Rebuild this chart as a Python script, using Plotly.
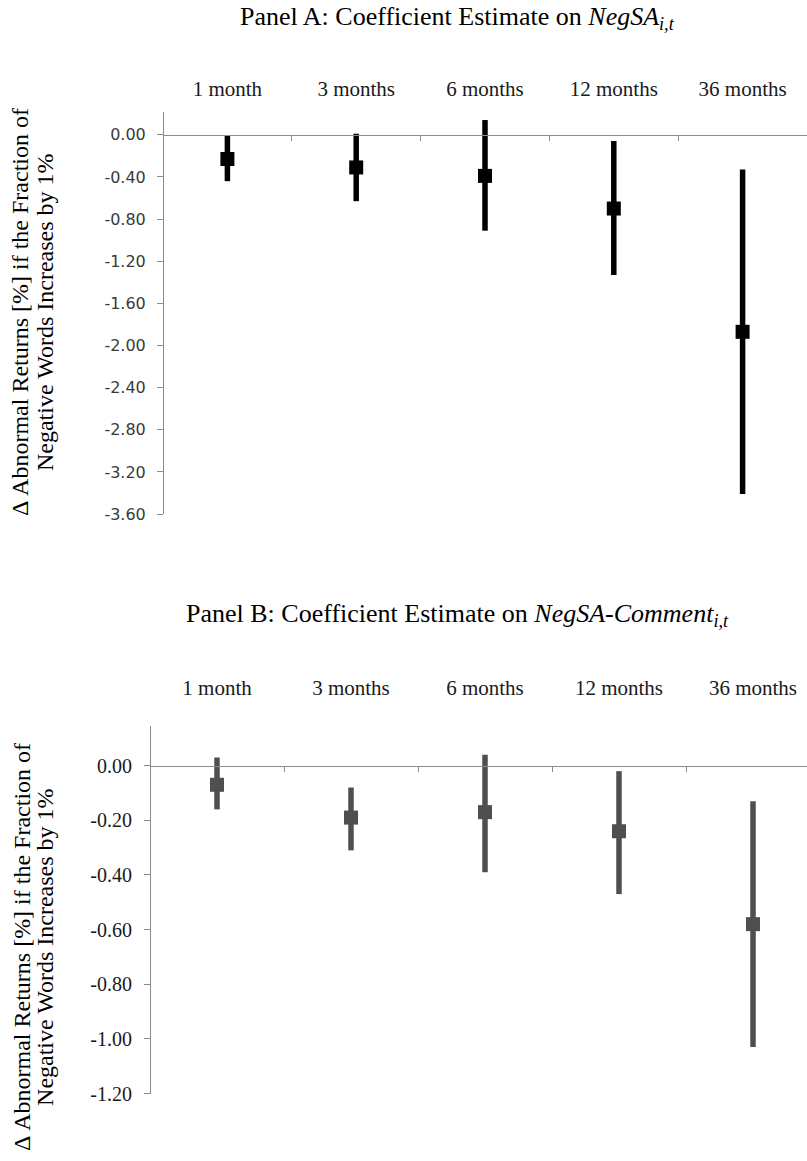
import plotly.graph_objects as go

# ---------------- data ----------------
categories = ["1 month", "3 months", "6 months", "12 months", "36 months"]

panel_a_est = [-0.23, -0.31, -0.39, -0.70, -1.87]
panel_a_upper = [-0.01, 0.01, 0.14, -0.06, -0.33]
panel_a_lower = [-0.44, -0.63, -0.91, -1.33, -3.41]

panel_b_est = [-0.07, -0.19, -0.17, -0.24, -0.58]
panel_b_upper = [0.03, -0.08, 0.04, -0.02, -0.13]
panel_b_lower = [-0.16, -0.31, -0.39, -0.47, -1.03]

panel_a_ticks = [0.0, -0.4, -0.8, -1.2, -1.6, -2.0, -2.4, -2.8, -3.2, -3.6]
panel_a_ticktext = ["0.00", "-0.40", "-0.80", "-1.20", "-1.60", "-2.00", "-2.40", "-2.80", "-3.20", "-3.60"]
panel_b_ticks = [0.0, -0.2, -0.4, -0.6, -0.8, -1.0, -1.2]
panel_b_ticktext = ["0.00", "-0.20", "-0.40", "-0.60", "-0.80", "-1.00", "-1.20"]

title_a = "Panel A: Coefficient Estimate on <i>NegSA</i><sub><i>i,t</i></sub>"
title_b = "Panel B: Coefficient Estimate on <i>NegSA-Comment</i><sub><i>i,t</i></sub>"
ytitle_line1 = "\u0394 Abnormal Returns [%] if the Fraction of"
ytitle_line2 = "Negative Words Increases by 1%"

# ---------------- layout geometry (pixels) ----------------
W, H = 807, 1161
SERIF = "Liberation Serif, Times New Roman, serif"
AXIS_GRAY = "#8c8c8c"


def py(pix):
    return 1 - pix / H


def px(pix):
    return pix / W


fig = go.Figure()


def add_panel(idx, est, upper, lower, color, x0_pix, cat_w, ytop_pix, ybot_pix,
              yrange, tickvals, ticktext, tickfont, label_standoff):
    xname = "x" if idx == 1 else f"x{idx}"
    yname = "y" if idx == 1 else f"y{idx}"
    xkey = "xaxis" if idx == 1 else f"xaxis{idx}"
    ykey = "yaxis" if idx == 1 else f"yaxis{idx}"

    err_plus = [u - e for u, e in zip(upper, est)]
    err_minus = [e - l for e, l in zip(est, lower)]
    fig.add_trace(go.Scatter(
        x=categories, y=est, xaxis=xname, yaxis=yname, mode="markers",
        marker=dict(symbol="square", size=14, color=color),
        error_y=dict(type="data", symmetric=False, array=err_plus,
                     arrayminus=err_minus, thickness=5.5, width=0, color=color),
        showlegend=False, hoverinfo="skip",
    ))

    ydom = [py(ybot_pix), py(ytop_pix)]
    zero_pos = ydom[0] + (0 - yrange[0]) / (yrange[1] - yrange[0]) * (ydom[1] - ydom[0])
    xrange_ = [-0.5, -0.5 + (W - x0_pix) / cat_w]

    fig.layout[xkey] = dict(
        type="category", domain=[px(x0_pix), 1], range=xrange_,
        anchor="free", position=zero_pos, side="top",
        showline=True, linecolor=AXIS_GRAY, linewidth=1,
        ticks="inside", tickson="boundaries", ticklen=5, tickcolor=AXIS_GRAY,
        showgrid=False, zeroline=False,
        tickfont=dict(family=SERIF, size=21, color="#1a1a1a"),
        ticklabelstandoff=label_standoff, fixedrange=True,
    )
    fig.layout[ykey] = dict(
        domain=ydom, range=yrange, anchor="free", position=px(x0_pix),
        showline=True, linecolor=AXIS_GRAY, linewidth=1,
        ticks="outside", ticklen=6, tickcolor=AXIS_GRAY,
        tickmode="array", tickvals=tickvals, ticktext=ticktext,
        tickfont=tickfont, showgrid=False, zeroline=False,
        ticklabelstandoff=8, fixedrange=True,
    )


add_panel(1, panel_a_est, panel_a_upper, panel_a_lower, "#000000",
          163, 128.8, 113, 519, [-3.6, 0.217], panel_a_ticks, panel_a_ticktext,
          dict(family="DejaVu Sans, Verdana, sans-serif", size=16, color="#3a3a3a"), 30)
add_panel(2, panel_b_est, panel_b_upper, panel_b_lower, "#4f4f4f",
          150, 134, 733, 1104, [-1.2, 0.145], panel_b_ticks, panel_b_ticktext,
          dict(family=SERIF, size=20, color="#1a1a1a"), 62)

annotations = []
for text, cy in [(title_a, 18), (title_b, 621)]:
    annotations.append(dict(
        text=text, x=px(457), y=py(cy), xref="paper", yref="paper",
        xanchor="center", yanchor="middle", showarrow=False,
        font=dict(family=SERIF, size=26, color="#000000"),
    ))
for cy, x1, x2 in [(315, 20, 45), (956, 22, 45)]:
    annotations.append(dict(
        text=ytitle_line1, x=px(x1), y=py(cy), xref="paper", yref="paper",
        xanchor="center", yanchor="middle", textangle=-90, showarrow=False,
        font=dict(family=SERIF, size=24, color="#000000"),
    ))
    annotations.append(dict(
        text=ytitle_line2, x=px(x2), y=py(cy), xref="paper", yref="paper",
        xanchor="center", yanchor="middle", textangle=-90, showarrow=False,
        font=dict(family=SERIF, size=24, color="#000000"),
    ))

fig.update_layout(
    width=W, height=H, margin=dict(l=0, r=0, t=0, b=0),
    paper_bgcolor="white", plot_bgcolor="white",
    annotations=annotations,
)

fig.write_html(
    "out.html",
    config={"displayModeBar": False},
    post_script="document.body.style.margin='0';document.body.style.overflow='hidden';",
)
